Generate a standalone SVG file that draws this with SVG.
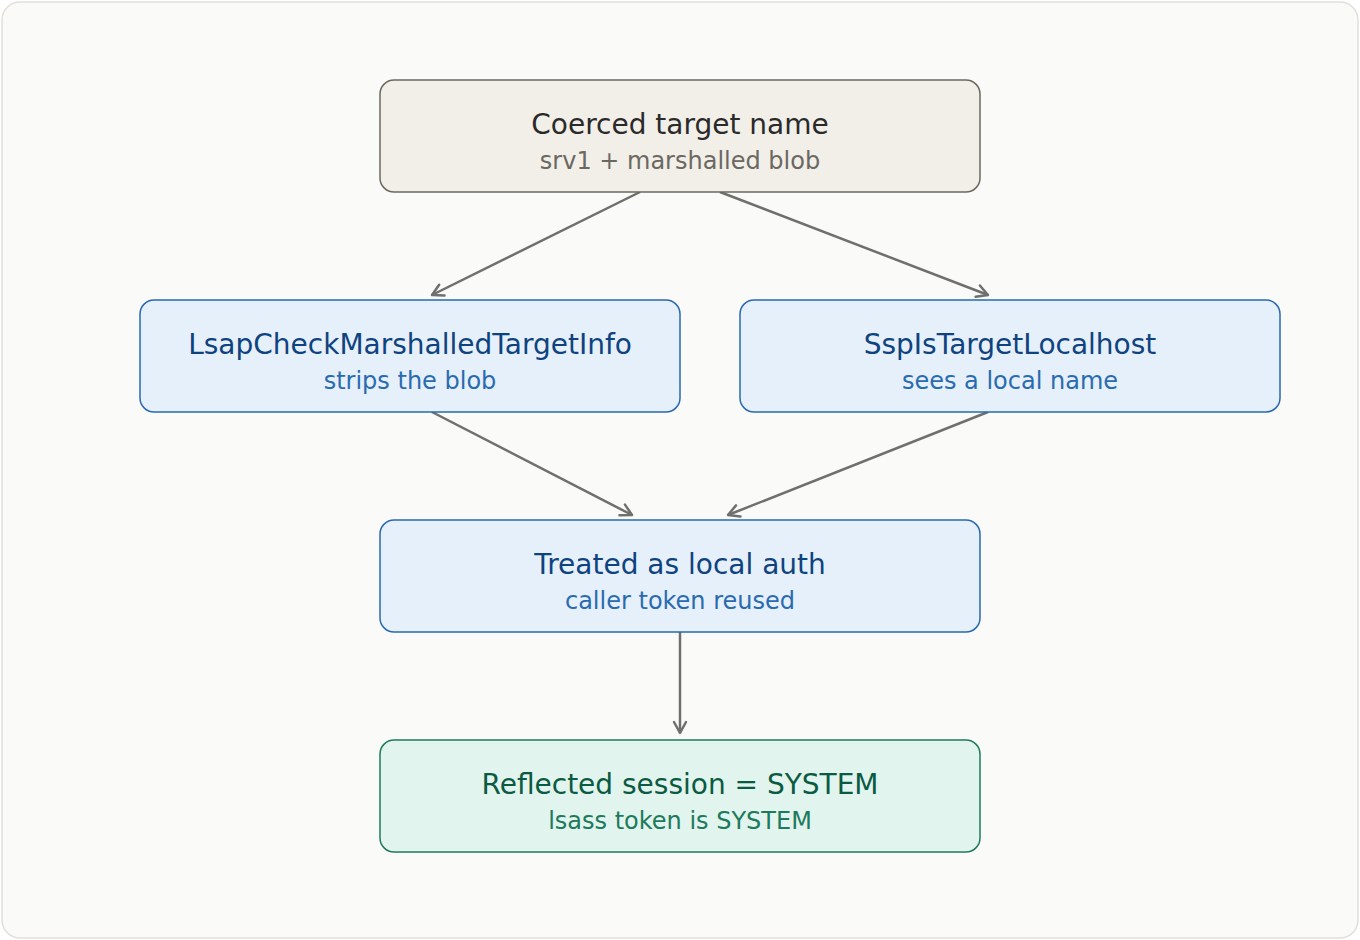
<svg xmlns="http://www.w3.org/2000/svg" width="1360" height="940" viewBox="0 0 1360 940">
<defs>
<marker id="arr" viewBox="0 0 16 16" refX="13" refY="8" markerWidth="16" markerHeight="16" markerUnits="userSpaceOnUse" orient="auto">
<path d="M2,2 L13,8 L2,14" fill="none" stroke="#6f6f6c" stroke-width="2.5" stroke-linecap="round" stroke-linejoin="round"/>
</marker>
<style>
text{font-family:"DejaVu Sans","Noto Sans",sans-serif;text-anchor:middle}
.t{font-size:28px}
.s{font-size:24px}
.nb{fill:#f2efe9;stroke:#6b6862;stroke-width:1.5}
.bl{fill:#e6f0fb;stroke:#2a68b0;stroke-width:1.5}
.gr{fill:#e2f4ee;stroke:#1f7a5e;stroke-width:1.5}
.tn{fill:#2a2a2a}.sn{fill:#6b6862}
.tb{fill:#0f437f}.sb{fill:#2a6bb0}
.tg{fill:#0b5a42}.sg{fill:#1d7a5c}
.e{fill:none;stroke:#6f6f6c;stroke-width:2.5;marker-end:url(#arr)}
</style>
</defs>
<rect x="2" y="2" width="1356" height="936" rx="18" fill="#fafaf8" stroke="#e2dfda" stroke-width="1.5"/>
<g id="connectors">
<line class="e" x1="640" y1="192" x2="432" y2="295"/>
<line class="e" x1="720" y1="192" x2="988" y2="295"/>
<line class="e" x1="432" y1="412" x2="632" y2="515"/>
<line class="e" x1="988" y1="412" x2="728" y2="515"/>
<line class="e" x1="680" y1="632" x2="680" y2="733"/>
</g>
<g id="coerced">
<rect class="nb" x="380" y="80" width="600" height="112" rx="14"/>
<text class="t tn" x="680" y="134">Coerced target name</text>
<text class="s sn" x="680" y="169">srv1 + marshalled blob</text>
</g>
<g id="lsap">
<rect class="bl" x="140" y="300" width="540" height="112" rx="14"/>
<text class="t tb" x="410" y="354">LsapCheckMarshalledTargetInfo</text>
<text class="s sb" x="410" y="389">strips the blob</text>
</g>
<g id="ssp">
<rect class="bl" x="740" y="300" width="540" height="112" rx="14"/>
<text class="t tb" x="1010" y="354">SspIsTargetLocalhost</text>
<text class="s sb" x="1010" y="389">sees a local name</text>
</g>
<g id="local">
<rect class="bl" x="380" y="520" width="600" height="112" rx="14"/>
<text class="t tb" x="680" y="574">Treated as local auth</text>
<text class="s sb" x="680" y="609">caller token reused</text>
</g>
<g id="system">
<rect class="gr" x="380" y="740" width="600" height="112" rx="14"/>
<text class="t tg" x="680" y="794">Reflected session = SYSTEM</text>
<text class="s sg" x="680" y="829">lsass token is SYSTEM</text>
</g>
</svg>
